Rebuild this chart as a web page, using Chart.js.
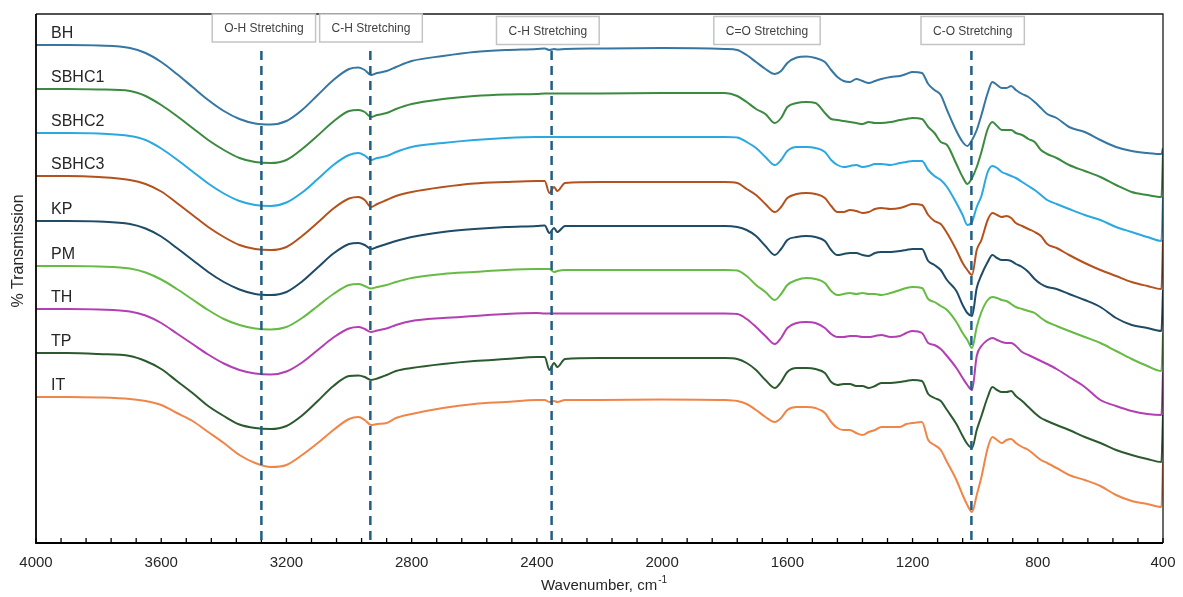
<!DOCTYPE html>
<html>
<head>
<meta charset="utf-8">
<script src="https://cdn.jsdelivr.net/npm/chart.js@4.4.1/dist/chart.umd.min.js"></script>
<style>
  html, body { margin: 0; padding: 0; background: #fff; }
  #wrap { width: 1183px; height: 597px; }
</style>
</head>
<body>
<div id="wrap"><canvas id="ftir" width="1183" height="597"></canvas></div>
<script>
// wavenumber grid, cm-1 (high to low)
const wavenumbers = [
  4000, 3900, 3800, 3700, 3650, 3600, 3550, 3500, 3450, 3400,
  3350, 3300, 3250, 3200, 3150, 3100, 3050, 3000, 2970, 2950,
  2930, 2910, 2880, 2850, 2800, 2700, 2600, 2500, 2400, 2375,
  2360, 2345, 2335, 2310, 2200, 2000, 1800, 1760, 1730, 1700,
  1670, 1640, 1620, 1600, 1570, 1540, 1510, 1480, 1460, 1440,
  1420, 1400, 1380, 1360, 1340, 1320, 1300, 1270, 1240, 1220,
  1200, 1170, 1150, 1130, 1110, 1090, 1060, 1040, 1025, 1010,
  995, 980, 960, 945, 930, 915, 900, 885, 870, 850,
  830, 810, 790, 770, 740, 700, 650, 600, 550, 500,
  450, 405, 400
]

// offset % transmission (arbitrary units, spectra stacked)
const bh = [
  498, 498, 497.5, 495, 490, 481, 469, 456, 443, 432,
  424, 419.5, 418.5, 422, 433, 448, 463, 474, 475.5, 473,
  468, 470, 472, 476, 482, 487, 491, 493, 494, 494.5,
  493, 494, 493.5, 494, 494.5, 495, 494, 493, 488, 481,
  474, 469, 472, 480, 485.5, 486.5, 485, 481, 473, 466,
  462, 461, 464, 462, 460, 462, 464, 466, 467, 469,
  471, 470, 459, 453, 448, 433, 412, 401, 397, 403,
  413, 428, 450, 461, 458, 455, 455, 457, 453, 449,
  446, 441, 435, 429, 425, 416, 411, 403, 396, 392,
  390, 389, 395
]
const sbhc1 = [
  454, 454, 453.5, 452, 447, 438, 427, 415, 403, 393,
  385, 381, 380, 383, 394, 407.5, 421.5, 432, 433, 431,
  426, 428, 430, 434, 439, 444, 447, 448.5, 449, 449.5,
  449.5, 449.5, 449.5, 449.5, 449.5, 450, 450, 447, 441, 434,
  429, 420, 425, 436, 440, 441, 440, 430, 424, 423,
  422, 421, 420, 419, 421, 420, 420, 421, 423, 424,
  425, 424, 416, 410, 401, 398, 379, 366, 359, 365,
  376, 391, 414, 421, 417, 413, 413, 413, 410, 408,
  404, 401, 393, 389, 385, 378, 372, 366, 358, 351,
  348, 346, 390
]
const sbhc2 = [
  410, 410, 409.5, 407, 403, 394.5, 383.5, 371.5, 359.5, 349.5,
  342, 338, 337, 340.5, 350.5, 364, 378, 388, 390, 387.5,
  383, 385, 387, 391, 396, 400, 403, 405, 406, 406,
  406, 406, 406, 406, 406, 406, 406, 405.5, 401, 395,
  386, 378, 383, 392, 396, 396, 395, 391, 383, 378,
  376, 377, 378, 376, 377, 379, 379, 378, 380, 381,
  382, 382, 373, 367, 363, 356, 340, 328, 318, 321,
  336, 347, 371, 377, 375, 371, 369, 367, 365, 361,
  357, 353, 348, 343, 339, 334, 328, 323, 316, 311,
  306, 302, 346
]
const sbhc3 = [
  367, 367, 366, 363, 359, 351.5, 340, 328, 316, 306,
  298, 294, 293, 296, 307, 320.5, 334.5, 344.5, 346, 343,
  336, 339, 343, 347, 351, 356, 359.5, 361, 362, 362,
  350, 356, 352, 360, 361, 361, 361, 360, 354, 348,
  339, 331, 336, 345, 349, 350, 349, 345, 337, 331,
  331, 333, 332, 330, 331, 334, 335, 334, 335, 337,
  339, 338, 328, 322, 319, 310, 293, 280, 273, 268,
  293, 303, 323, 330, 328, 326, 327, 325, 320, 317,
  314, 311, 307, 299, 295, 288, 280, 273, 267, 261,
  257, 254, 303
]
const kp = [
  322, 322, 321.5, 319, 314.5, 306.5, 295, 283, 271, 261,
  253.5, 249, 248, 251, 261.5, 275.5, 289.5, 299, 300, 298,
  294, 296, 299, 302, 306, 311, 314, 316, 317, 317.5,
  310, 315, 311, 317, 317, 317, 317, 316, 313, 307,
  297, 288, 294, 303, 306, 307, 306, 302, 293, 288,
  289, 290, 290, 288, 287, 290, 291, 291, 292, 293,
  294, 294, 282, 278, 273, 263, 252, 238, 230, 227,
  255, 268, 281, 288, 285, 283, 283, 282, 279, 276,
  271, 264, 259, 256, 254, 249, 243, 236, 225, 218,
  215, 212, 253
]
const pm = [
  277, 277, 276.5, 274.5, 270.5, 263.5, 254, 243.5, 233, 224,
  218, 214.5, 213.5, 216, 225, 237, 249, 258, 259, 257,
  254.5, 256, 258, 261, 265, 269, 271, 273, 274, 274,
  274, 271, 272, 273, 273, 273, 273, 272.5, 267, 258,
  251, 243, 249, 258, 263, 265, 264, 260, 252, 248,
  249, 250, 249, 250, 249, 249, 248, 250, 253, 255,
  256, 255, 244, 241, 237, 233, 221, 210, 203, 195,
  216, 231, 243, 246, 245, 243, 242, 239, 236, 234,
  232, 230, 225, 221, 217, 212, 206, 200, 192, 184,
  177, 172, 210
]
const th = [
  234, 234, 233.5, 231.5, 227.5, 220, 209.5, 199, 188.5, 179.5,
  173, 169.5, 168.5, 171.5, 180.5, 193, 205.5, 214.5, 216, 214,
  211, 212.5, 214.5, 218, 222, 225, 227, 229, 230, 229.5,
  229.5, 229.5, 229.5, 229.5, 229.5, 229.5, 229.5, 229, 224, 216,
  207, 199, 205, 215, 220, 221, 220, 215, 209, 206,
  206, 207, 207, 206, 206, 207, 208, 206, 207, 210,
  212, 210, 200, 198, 194, 187, 175, 165, 158, 153,
  187, 197, 203, 205, 203, 201, 200, 200, 197, 191,
  188, 185, 182, 179, 174, 166, 156, 143, 137, 132,
  129, 128, 171
]
const tp = [
  190, 190, 189, 187, 182, 174, 162, 150, 137, 127,
  118.5, 115, 114, 117, 127.5, 142, 157, 167, 167.5, 166,
  163, 164.5, 168, 172, 175, 179, 182, 184, 186, 186,
  173, 180, 176, 184, 185, 185, 185, 184, 180, 173,
  163, 155, 161, 171, 175, 175, 174, 170, 161, 158,
  159, 159, 157, 157, 155, 157, 160, 160, 161, 162,
  163, 162, 149, 145, 142, 133, 119, 107, 99, 95,
  113, 127, 146, 156, 153, 151, 151, 152, 147, 142,
  136, 130, 125, 122, 118, 113, 106, 100, 93, 88,
  84, 81, 128
]
const it = [
  146, 146, 145.5, 144, 142, 138, 130, 122, 111, 100,
  88, 80, 76, 78, 88, 100, 113, 124, 126, 123,
  118, 119, 120, 125, 129, 135, 139, 141, 143, 143,
  141, 142, 141, 143, 143, 143.5, 143, 142, 139, 133,
  126, 121, 125, 133, 136, 136, 135, 130, 121, 115,
  113, 113, 110, 108, 111, 113, 116, 116, 116, 119,
  120, 121, 103, 98, 93, 81, 63, 48, 38, 31,
  48, 66, 95, 106, 103, 100, 103, 104, 100, 96,
  93, 88, 83, 80, 75, 68, 63, 57, 48, 42,
  39, 36, 81
]

const seriesNames = ['BH', 'SBHC1', 'SBHC2', 'SBHC3', 'KP', 'PM', 'TH', 'TP', 'IT']
const seriesValues = [bh, sbhc1, sbhc2, sbhc3, kp, pm, th, tp, it]
const seriesColors = ['#3576a2', '#3b8a3f', '#2aa8e0', '#b4521e', '#1f4b66', '#66bb44', '#b33fb3', '#2b5a2e', '#f08548']

const xTickLabels = [4000, 3600, 3200, 2800, 2400, 2000, 1600, 1200, 800, 400]
const minorStep = 80

const bandLabels = ['O-H Stretching', 'C-H Stretching', 'C-H Stretching', 'C=O Stretching', 'C-O Stretching']
const bandCenters = [3272, 2930, 2365, 1665, 1008]
const bandLines = [3280, 2932, 2353, 1012]

const overlay = {
  id: 'overlay',
  afterDatasetsDraw(chart) {
    const ctx = chart.ctx
    const a = chart.chartArea
    const xs = chart.scales.x
    const ys = chart.scales.y
    ctx.save()

    // frame
    ctx.strokeStyle = '#1a1a1a'
    ctx.lineWidth = 1.3
    ctx.beginPath()
    ctx.moveTo(a.left, a.top)
    ctx.lineTo(a.right, a.top)
    ctx.lineTo(a.right, a.bottom)
    ctx.stroke()
    ctx.strokeStyle = '#000'
    ctx.lineWidth = 1.8
    ctx.beginPath()
    ctx.moveTo(a.left, a.top)
    ctx.lineTo(a.left, a.bottom)
    ctx.lineTo(a.right, a.bottom)
    ctx.stroke()

    // inward tick marks
    ctx.lineWidth = 1.3
    for (let w = 4000; w >= 400; w -= minorStep) {
      const px = xs.getPixelForValue(w)
      ctx.beginPath()
      ctx.moveTo(px, a.bottom)
      ctx.lineTo(px, a.bottom - 5)
      ctx.stroke()
    }

    // band marker lines
    ctx.strokeStyle = '#215e85'
    ctx.lineWidth = 2.5
    ctx.setLineDash([9, 6])
    bandLines.forEach(function (w) {
      const px = xs.getPixelForValue(w)
      ctx.beginPath()
      ctx.moveTo(px, a.top + 37)
      ctx.lineTo(px, a.bottom + 3)
      ctx.stroke()
    })
    ctx.setLineDash([])

    // tick labels
    ctx.fillStyle = '#262626'
    ctx.font = '15px "Liberation Sans", Arial, sans-serif'
    ctx.textAlign = 'center'
    ctx.textBaseline = 'middle'
    xTickLabels.forEach(function (w) {
      ctx.fillText(String(w), xs.getPixelForValue(w), a.bottom + 20)
    })

    // x title with superscript
    const main = 'Wavenumber, cm'
    const sup = '-1'
    ctx.font = '15px "Liberation Sans", Arial, sans-serif'
    const mw = ctx.measureText(main).width
    ctx.font = '10px "Liberation Sans", Arial, sans-serif'
    const sw = ctx.measureText(sup).width
    const cx = (a.left + a.right) / 2 + 4
    const tx = cx - (mw + sw) / 2
    ctx.textAlign = 'left'
    ctx.font = '15px "Liberation Sans", Arial, sans-serif'
    ctx.fillText(main, tx, a.bottom + 43)
    ctx.font = '10px "Liberation Sans", Arial, sans-serif'
    ctx.fillText(sup, tx + mw + 1, a.bottom + 37)

    // y title
    ctx.save()
    ctx.translate(19, 251)
    ctx.rotate(-Math.PI / 2)
    ctx.textAlign = 'center'
    ctx.font = '16px "Liberation Sans", Arial, sans-serif'
    ctx.fillText('% Transmission', 0, 0)
    ctx.restore()

    // series names
    ctx.textAlign = 'left'
    ctx.font = '16px "Liberation Sans", Arial, sans-serif'
    seriesNames.forEach(function (name, i) {
      const py = ys.getPixelForValue(seriesValues[i][0])
      ctx.fillText(name, a.left + 15, py - 11.5)
    })

    // band boxes
    ctx.font = '12px "Liberation Sans", Arial, sans-serif'
    ctx.textAlign = 'center'
    bandLabels.forEach(function (label, i) {
      const px = xs.getPixelForValue(bandCenters[i])
      const bw = ctx.measureText(label).width + 24
      const top = i < 2 ? a.top : a.top + 2.5
      ctx.fillStyle = '#fff'
      ctx.fillRect(px - bw / 2, top, bw, 28)
      ctx.strokeStyle = '#c4c4c4'
      ctx.lineWidth = 1.5
      ctx.strokeRect(px - bw / 2, top, bw, 28)
      ctx.fillStyle = '#404040'
      ctx.fillText(label, px, top + 15)
    })

    ctx.restore()
  }
}

new Chart(document.getElementById('ftir'), {
  type: 'line',
  data: {
    datasets: seriesNames.map(function (name, i) {
      return {
        label: name,
        data: wavenumbers.map(function (w, j) { return { x: w, y: seriesValues[i][j] } }),
        borderColor: seriesColors[i],
        borderWidth: 2,
        pointRadius: 0,
        fill: false,
        cubicInterpolationMode: 'monotone'
      }
    })
  },
  options: {
    responsive: false,
    animation: false,
    devicePixelRatio: 1,
    layout: { padding: { left: 36, right: 20, top: 14, bottom: 54 } },
    plugins: {
      legend: { display: false },
      tooltip: { enabled: false }
    },
    scales: {
      x: { type: 'linear', min: 400, max: 4000, reverse: true, display: false },
      y: { min: 0, max: 529, display: false }
    }
  },
  plugins: [overlay]
})
</script>
</body>
</html>
